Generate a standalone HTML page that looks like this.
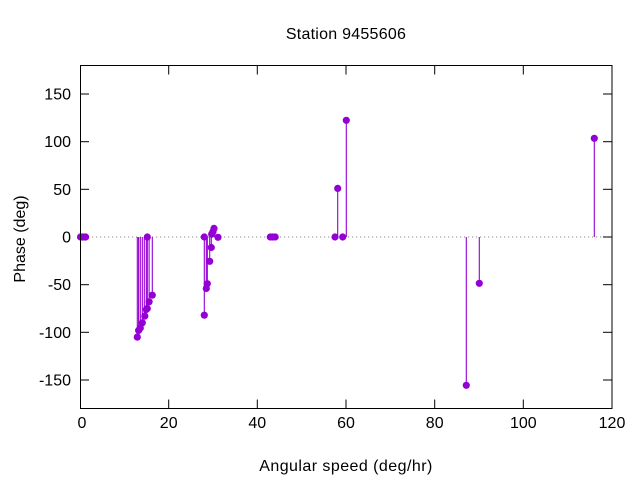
<!DOCTYPE html>
<html>
<head>
<meta charset="utf-8">
<style>
html,body{margin:0;padding:0;background:#fff;}
svg{display:block;}
text{font-family:"Liberation Sans",sans-serif;font-size:16px;fill:#000;}
</style>
</head>
<body>
<svg width="640" height="480" viewBox="0 0 640 480" xmlns="http://www.w3.org/2000/svg">
<rect x="0" y="0" width="640" height="480" fill="#fff"/>
<line x1="80" y1="237" x2="612" y2="237" stroke="#a0a0a0" stroke-width="1.2" stroke-dasharray="1.2,2.8"/>
<g stroke="#000" stroke-width="1">
<line x1="80" y1="94" x2="89" y2="94"/><line x1="612" y1="94" x2="603" y2="94"/>
<line x1="80" y1="141.7" x2="89" y2="141.7"/><line x1="612" y1="141.7" x2="603" y2="141.7"/>
<line x1="80" y1="189.3" x2="89" y2="189.3"/><line x1="612" y1="189.3" x2="603" y2="189.3"/>
<line x1="80" y1="237" x2="89" y2="237"/><line x1="612" y1="237" x2="603" y2="237"/>
<line x1="80" y1="284.7" x2="89" y2="284.7"/><line x1="612" y1="284.7" x2="603" y2="284.7"/>
<line x1="80" y1="332.3" x2="89" y2="332.3"/><line x1="612" y1="332.3" x2="603" y2="332.3"/>
<line x1="80" y1="380" x2="89" y2="380"/><line x1="612" y1="380" x2="603" y2="380"/>
<line x1="168.7" y1="408.5" x2="168.7" y2="399.5"/><line x1="168.7" y1="65.5" x2="168.7" y2="74.5"/>
<line x1="257.3" y1="408.5" x2="257.3" y2="399.5"/><line x1="257.3" y1="65.5" x2="257.3" y2="74.5"/>
<line x1="346" y1="408.5" x2="346" y2="399.5"/><line x1="346" y1="65.5" x2="346" y2="74.5"/>
<line x1="434.7" y1="408.5" x2="434.7" y2="399.5"/><line x1="434.7" y1="65.5" x2="434.7" y2="74.5"/>
<line x1="523.3" y1="408.5" x2="523.3" y2="399.5"/><line x1="523.3" y1="65.5" x2="523.3" y2="74.5"/>
</g>
<g stroke="#9400d3" stroke-width="1.1">
<line x1="137.3" y1="237" x2="137.3" y2="337.1"/>
<line x1="138.6" y1="237" x2="138.6" y2="330.4"/>
<line x1="140.3" y1="237" x2="140.3" y2="328"/>
<line x1="142.3" y1="237" x2="142.3" y2="322.8"/>
<line x1="144.3" y1="237" x2="144.3" y2="316.1"/>
<line x1="146.3" y1="237" x2="146.3" y2="309.5"/>
<line x1="147.3" y1="237" x2="147.3" y2="308.5"/>
<line x1="149.1" y1="237" x2="149.1" y2="301.8"/>
<line x1="152.3" y1="237" x2="152.3" y2="295.2"/>
<line x1="204.3" y1="237" x2="204.3" y2="315.2"/>
<line x1="206.3" y1="237" x2="206.3" y2="288.5"/>
<line x1="207.3" y1="237" x2="207.3" y2="283.7"/>
<line x1="209.7" y1="237" x2="209.7" y2="261.3"/>
<line x1="211.3" y1="237" x2="211.3" y2="247.5"/>
<line x1="211.7" y1="237" x2="211.7" y2="234.1"/>
<line x1="213" y1="237" x2="213" y2="231.7"/>
<line x1="214" y1="237" x2="214" y2="228.4"/>
<line x1="337.7" y1="237" x2="337.7" y2="188.4"/>
<line x1="346.3" y1="237" x2="346.3" y2="120.3"/>
<line x1="466.3" y1="237" x2="466.3" y2="385.3"/>
<line x1="479.3" y1="237" x2="479.3" y2="283.3"/>
<line x1="594.3" y1="237" x2="594.3" y2="138.3"/>
</g>
<g fill="#9400d3">
<circle cx="80.5" cy="237" r="3.6"/>
<circle cx="82.2" cy="237" r="3.6"/>
<circle cx="84.2" cy="237" r="3.6"/>
<circle cx="85.6" cy="237" r="3.6"/>
<circle cx="137.3" cy="337.1" r="3.6"/>
<circle cx="138.6" cy="330.4" r="3.6"/>
<circle cx="140.3" cy="328" r="3.6"/>
<circle cx="142.3" cy="322.8" r="3.6"/>
<circle cx="144.8" cy="316.1" r="3.6"/>
<circle cx="146.3" cy="309.5" r="3.6"/>
<circle cx="147.3" cy="308.5" r="3.6"/>
<circle cx="147.3" cy="237" r="3.6"/>
<circle cx="149.1" cy="301.8" r="3.6"/>
<circle cx="152.3" cy="295.2" r="3.6"/>
<circle cx="204.3" cy="237" r="3.6"/>
<circle cx="204.3" cy="315.2" r="3.6"/>
<circle cx="206.3" cy="288.5" r="3.6"/>
<circle cx="207.3" cy="283.7" r="3.6"/>
<circle cx="209.7" cy="261.3" r="3.6"/>
<circle cx="211.3" cy="247.5" r="3.6"/>
<circle cx="211.7" cy="234.1" r="3.6"/>
<circle cx="213" cy="231.7" r="3.6"/>
<circle cx="214" cy="228.4" r="3.6"/>
<circle cx="218" cy="237.3" r="3.6"/>
<circle cx="270.3" cy="237" r="3.6"/>
<circle cx="272.7" cy="237" r="3.6"/>
<circle cx="275.2" cy="237" r="3.6"/>
<circle cx="335" cy="237" r="3.6"/>
<circle cx="337.7" cy="188.4" r="3.6"/>
<circle cx="342.7" cy="237" r="3.6"/>
<circle cx="346.3" cy="120.3" r="3.6"/>
<circle cx="466.3" cy="385.3" r="3.6"/>
<circle cx="479.3" cy="283.3" r="3.6"/>
<circle cx="594.3" cy="138.3" r="3.6"/>
</g>
<rect x="80.5" y="65.5" width="531.5" height="343" fill="none" stroke="#000" stroke-width="1"/>
<g text-anchor="end">
<text x="71" y="99.5">150</text>
<text x="71" y="147.2">100</text>
<text x="71" y="194.8">50</text>
<text x="71" y="242.5">0</text>
<text x="71" y="290.2">-50</text>
<text x="71" y="337.8">-100</text>
<text x="71" y="385.5">-150</text>
</g>
<g text-anchor="middle">
<text x="82" y="428">0</text>
<text x="168.7" y="428">20</text>
<text x="257.3" y="428">40</text>
<text x="346" y="428">60</text>
<text x="434.7" y="428">80</text>
<text x="523.3" y="428">100</text>
<text x="612" y="428">120</text>
</g>
<text x="346" y="39" text-anchor="middle" letter-spacing="0.25">Station 9455606</text>
<text x="346" y="471" text-anchor="middle" letter-spacing="0.45">Angular speed (deg/hr)</text>
<text x="0" y="0" text-anchor="middle" transform="translate(25,239) rotate(-90)">Phase (deg)</text>
</svg>
</body>
</html>
